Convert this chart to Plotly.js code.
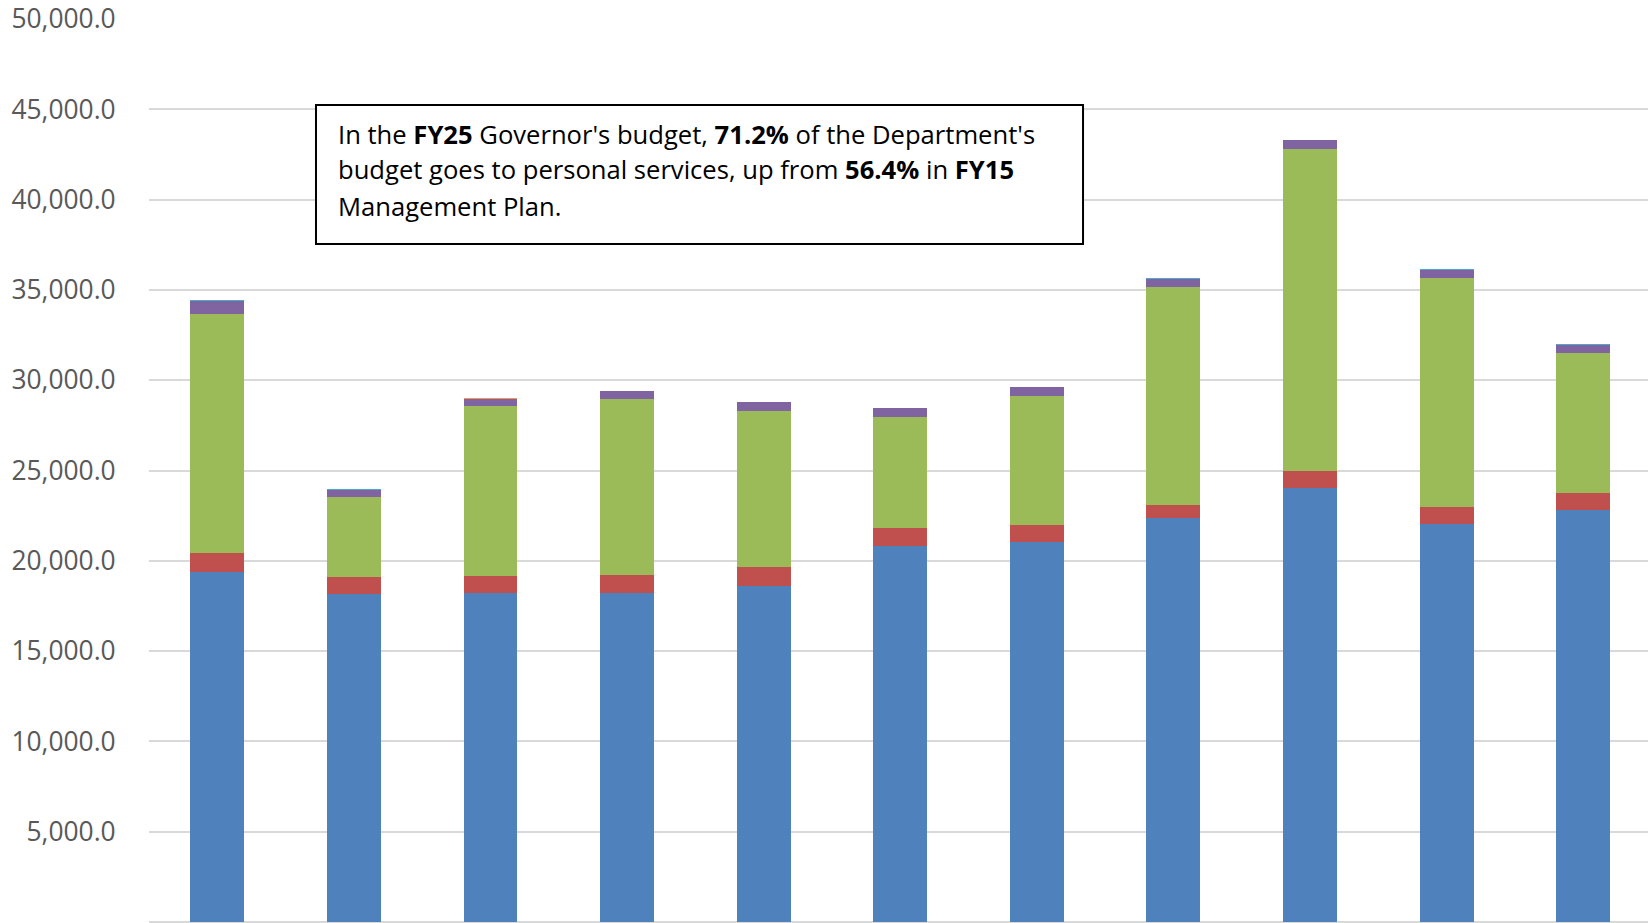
<!DOCTYPE html>
<html>
<head>
<meta charset="utf-8">
<script src="https://cdn.plot.ly/plotly-3.0.1.min.js"></script>
<style>
html,body{margin:0;padding:0;background:#fff;overflow:hidden;}
#chart{width:1648px;height:923px;}
</style>
</head>
<body>
<div id="chart"></div>
<script>
// Categories (x-axis labels are cropped out of the reference view)
const categories = ["FY15 MP","FY16 MP","FY17 MP","FY18 MP","FY19 MP","FY20 MP","FY21 MP","FY22 MP","FY23 MP","FY24 MP","FY25 Gov"];

// Stacked series values
const personalServices = [19360, 18150, 18240, 18240, 18590, 20830, 21020, 22360, 24020, 22020, 22800];
const travel           = [1050, 960, 910, 950, 1040, 970, 950, 730, 980, 950, 940];
const services         = [13280, 4410, 9430, 9780, 8690, 6180, 7180, 12060, 17800, 12700, 7740];
const commodities      = [700, 410, 390, 420, 480, 460, 480, 480, 480, 440, 490];
const capitalOutlay    = [30, 20, 0, 20, 20, 20, 20, 20, 20, 20, 20];
const grants           = [0, 0, 70, 0, 0, 0, 0, 0, 0, 0, 0];

const seriesNames  = ["Personal Services","Travel","Services","Commodities","Capital Outlay","Grants"];
const seriesValues = [personalServices, travel, services, commodities, capitalOutlay, grants];
const seriesColors = ["#4F81BD","#C0504D","#9BBB59","#8064A2","#4BACC6","#F79646"];

const tickValues = [0,5000,10000,15000,20000,25000,30000,35000,40000,45000,50000];
const tickLabels = ["-","5,000.0","10,000.0","15,000.0","20,000.0","25,000.0","30,000.0","35,000.0","40,000.0","45,000.0","50,000.0"];

const noteLines = [
  "In the <b>FY25</b> Governor's budget, <b>71.2%</b> of the Department's",
  "budget goes to personal services, up from <b>56.4%</b> in <b>FY15</b>",
  "Management Plan."
];

const traces = seriesValues.map((vals, i) => ({
  type: "bar",
  name: seriesNames[i],
  x: categories,
  y: vals,
  width: 0.395,
  marker: {color: seriesColors[i], line: {width: 0}},
  hoverinfo: "x+y+name"
}));

const lineY = [0.8721, 0.8328, 0.7929];
const annotations = noteLines.map((t, i) => ({
  xref: "paper", yref: "paper",
  x: 0.1247, y: lineY[i],
  xanchor: "left", yanchor: "middle",
  align: "left",
  showarrow: false,
  text: t,
  font: {family: "'Open Sans', Lato, sans-serif", size: 25.6, color: "#000000"}
}));

const layout = {
  width: 1648, height: 923,
  margin: {l: 149, r: 0, t: 19, b: 1, pad: 0},
  paper_bgcolor: "#ffffff",
  plot_bgcolor: "#ffffff",
  barmode: "stack",
  showlegend: false,
  xaxis: {
    type: "category",
    range: [-0.5, 10.474],
    showticklabels: false,
    ticks: "",
    showgrid: false,
    zeroline: false,
    showline: false,
    fixedrange: true
  },
  yaxis: {
    range: [0, 50000],
    tickmode: "array",
    tickvals: tickValues,
    ticktext: tickLabels,
    ticks: "outside",
    ticklen: 27,
    tickcolor: "rgba(0,0,0,0)",
    tickfont: {family: "'Open Sans', Lato, sans-serif", size: 26.4, color: "#595959"},
    showgrid: true,
    gridcolor: "#D9D9D9",
    gridwidth: 2,
    zeroline: true,
    zerolinecolor: "#D9D9D9",
    zerolinewidth: 2,
    showline: false,
    fixedrange: true
  },
  shapes: [{
    type: "rect", xref: "paper", yref: "paper",
    x0: 0.1114, x1: 0.6231, y0: 0.7508, y1: 0.9048,
    line: {color: "#000000", width: 2},
    fillcolor: "#ffffff",
    layer: "above"
  }],
  annotations: annotations
};

Plotly.newPlot("chart", traces, layout, {displayModeBar: false, staticPlot: true});
</script>
</body>
</html>
